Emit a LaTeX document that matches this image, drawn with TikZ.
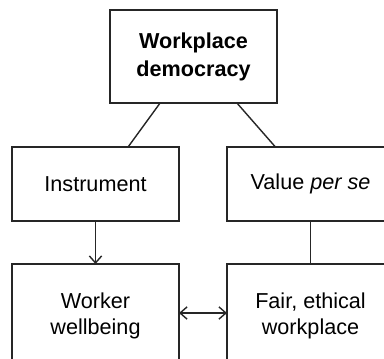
\documentclass[tikz,border=0pt]{standalone}
\usepackage{fontspec}
\setmainfont{Liberation Sans}
\usetikzlibrary{arrows.meta,calc}

\begin{document}
\begin{tikzpicture}[
    x = 0.02cm,
    y = -0.02cm,
    >={Straight Barb[length=4pt,width=7pt]},
    box/.style = {draw=black!85, line width=0.8pt, align=center,
              inner sep=0pt, outer sep=0pt, font=\fontsize{12.3}{15}\selectfont},
    link/.style = {black!85, line width=0.8pt},
    ]

\useasboundingbox (0,0) rectangle (384,358);
\clip (0,0) rectangle (384,358);

\node[box, minimum width=167*0.02cm, minimum height=93*0.02cm] (democracy) at (193.5,56.5){\textbf{Workplace}\\[1pt]\textbf{democracy}};
\node[box, minimum width=167*0.02cm, minimum height=74*0.02cm] (instrument) at (95.5,184){Instrument};
\node[box, minimum width=167*0.02cm, minimum height=74*0.02cm] (value) at (310.5,184){Value \textit{per se}};
\node[box, minimum width=167*0.02cm, minimum height=104*0.02cm] (wellbeing) at (95.5,316){Worker\\wellbeing};
\node[box, minimum width=167*0.02cm, minimum height=104*0.02cm] (fair) at (310.5,316){Fair, ethical\\workplace};

\draw [link] ($(democracy.south west)!0.3!(democracy.south east)$) -- ($(instrument.north west)!0.695!(instrument.north east)$);
\draw [link] ($(democracy.south west)!0.76!(democracy.south east)$) -- ($(value.north west)!0.29!(value.north east)$);
\draw [->, link] (instrument) -- (wellbeing);
\draw [link] (value) -- (fair);
\draw [<->, link] ($(wellbeing.east)+(0,-3)$) -- ($(fair.west)+(0,-3)$);

\end{tikzpicture}
\end{document}
